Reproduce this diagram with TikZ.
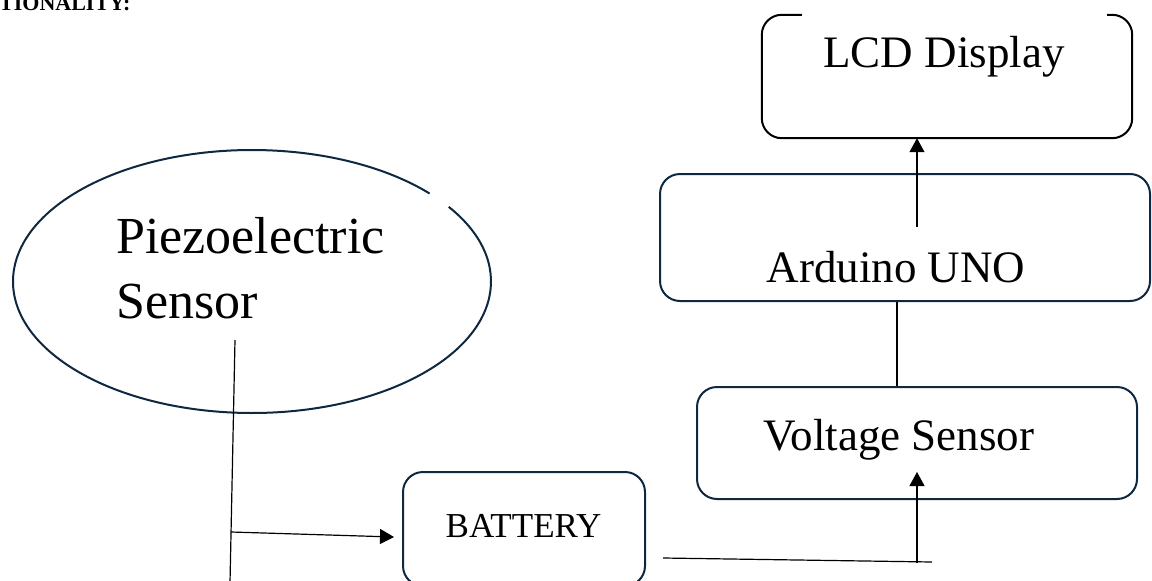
\documentclass[tikz,border=0pt]{standalone}
\usepackage{fontspec}
\setmainfont{Liberation Serif}
\usetikzlibrary{arrows.meta,shapes.geometric}
\definecolor{navy}{HTML}{0E2841}
\begin{document}
\begin{tikzpicture}[x=1pt,y=-1pt,
  box/.style={draw=navy,line width=2pt,rounded corners=20pt,inner sep=0pt},
  conn/.style={draw=black,line width=1.2pt},
  arr/.style={conn,-{Triangle[length=14pt,width=15pt]}},
  lbl/.style={inner sep=0pt,anchor=base,font=\fontsize{45}{54}\selectfont}]
\useasboundingbox (0,0) rectangle (1152,581);
\fill[white] (0,0) rectangle (1152,581);
\clip (0,0) rectangle (1152,581);

% heading (cut off at the page edge, as in the reference)
\node[anchor=base west,inner sep=0pt,font=\fontsize{22}{26}\selectfont\bfseries] (head) at (-1,10.5) {TIONALITY:};

% LCD display box with gap in its top edge
\node[inner sep=0pt,minimum width=370pt,minimum height=123pt] (lcd) at (947,76.5) {};
\draw[black,line width=2pt,rounded corners=20pt]
  ([xshift=40pt]lcd.north west) -- (lcd.north west) -- (lcd.south west)
  -- (lcd.south east) -- (lcd.north east) -- ([xshift=-25pt]lcd.north east);
\node[lbl] (lcdT) at (944,67) {LCD Display};

% Arduino
\node[box,minimum width=490pt,minimum height=127pt] (ard) at (905,237.5) {};
\node[lbl] (ardT) at (896,282) {Arduino UNO};

% Voltage sensor
\node[box,minimum width=440pt,minimum height=112pt] (volt) at (917,443) {};
\node[lbl] (voltT) at (899,450) {Voltage Sensor};

% Battery
\node[box,minimum width=242pt,minimum height=114pt] (bat) at (524,529) {};
\node[lbl,font=\fontsize{35}{42}\selectfont] (batT) at (523.5,537) {BATTERY};

% Piezoelectric sensor ellipse with a small gap
\node[ellipse,inner sep=0pt,minimum width=478pt,minimum height=263pt] (piezo) at (252,281.5) {};
\draw[navy,line width=2pt] (piezo.center) ++(-42:239 and 131.5)
  arc[start angle=-42,end angle=-394.6,x radius=239,y radius=131.5];
\node[anchor=base west,inner sep=0pt,font=\fontsize{52}{65}\selectfont] (pzT1) at (116,253) {Piezoelectric};
\node[anchor=base west,inner sep=0pt,font=\fontsize{52}{65}\selectfont] (pzT2) at (116,318) {Sensor};

% connectors
\coordinate (ardTop) at (917,227);
\draw[arr] (ardTop) -- (ardTop |- lcd.south);
\draw[conn] ([xshift=-8pt]ard.south) -- ([xshift=-8pt]ard.south |- volt.north);
\coordinate (pz) at (235,340);
\coordinate (pzEnd) at (230,583);
\draw[conn] (pz) -- (pzEnd);
\coordinate (tap) at (231,532);
\coordinate (batIn) at (394,537);
\draw[arr] (tap) -- (batIn);
\coordinate (batOut) at (663,558);
\coordinate (vsJoin) at (932,562);
\draw[conn] (batOut) -- (vsJoin);
\coordinate (vsFoot) at (917,563);
\coordinate (vsIn) at (917,472);
\draw[arr] (vsFoot) -- (vsIn);
\end{tikzpicture}
\end{document}
